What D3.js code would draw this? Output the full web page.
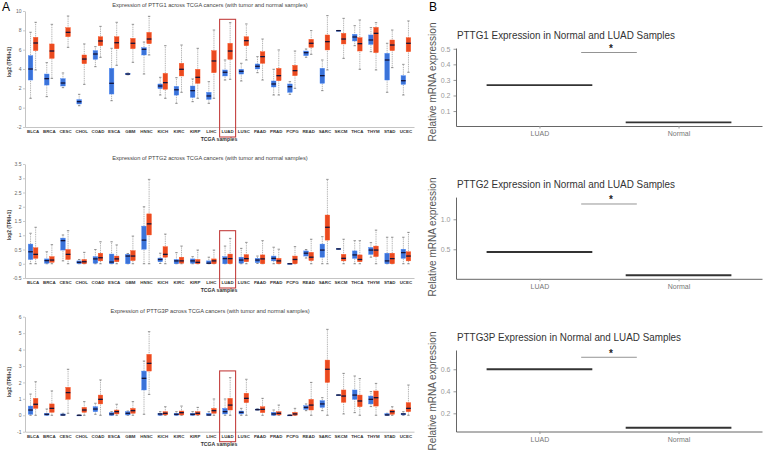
<!DOCTYPE html>
<html>
<head>
<meta charset="utf-8">
<script src="https://cdn.jsdelivr.net/npm/d3@7/dist/d3.min.js"></script>
<style>
  body { margin: 0; background: #fff; }
  svg { display: block; font-family: 'Liberation Sans', Arial, sans-serif; }
</style>
</head>
<body>
<svg id="fig" width="768" height="451"></svg>
<script>
/* global d3 */

// TCGA cancer types (x axis of panel A)
const cancers = ['BLCA', 'BRCA', 'CESC', 'CHOL', 'COAD', 'ESCA', 'GBM', 'HNSC', 'KICH', 'KIRC', 'KIRP', 'LIHC',
  'LUAD', 'LUSC', 'PAAD', 'PRAD', 'PCPG', 'READ', 'SARC', 'SKCM', 'THCA', 'THYM', 'STAD', 'UCEC']

// box stats per cancer: [whisker low, q1, median, q3, whisker high]
const pttg1Normal = [
  [0.97, 2.86, 4.0, 5.38, 7.8], [1.14, 2.34, 3.0, 3.48, 4.66], [2.07, 2.24, 2.55, 3.0, 3.59], [0.2, 0.38, 0.62, 0.83, 1.38],
  [4.24, 5.0, 5.55, 5.9, 6.31], [0.72, 1.41, 2.52, 4.07, 6.14], [3.4, 3.42, 3.48, 3.55, 3.58], [3.48, 5.45, 6.03, 6.21, 6.79],
  [1.31, 1.97, 2.24, 2.45, 3.14], [0.45, 1.3, 1.85, 2.2, 3.1], [0.62, 1.07, 1.76, 2.24, 2.97], [0.45, 0.86, 1.21, 1.59, 2.69],
  [2.86, 3.28, 3.66, 3.9, 4.93], [2.76, 3.48, 3.76, 3.97, 4.59], [3.62, 4.0, 4.28, 4.52, 5.28], [1.31, 2.14, 2.45, 2.76, 3.97],
  [1.38, 1.59, 2.17, 2.45, 2.69], [5.21, 5.38, 5.69, 5.86, 6.07], [1.76, 2.52, 3.31, 4.07, 4.93], [7.95, 7.95, 7.97, 7.99, 7.99],
  [6.41, 6.9, 7.31, 7.59, 8.48], [5.79, 6.55, 7.0, 7.52, 8.28], [1.59, 2.86, 4.93, 5.62, 6.66], [1.31, 2.41, 2.79, 3.31, 4.48]
]
const pttg1Tumor = [
  [3.9, 5.9, 6.69, 7.28, 8.83], [3.03, 5.1, 5.86, 6.59, 8.62], [6.24, 7.34, 7.79, 8.28, 9.48], [2.41, 4.55, 5.03, 5.45, 6.59],
  [5.21, 6.41, 6.9, 7.34, 8.41], [4.38, 6.1, 6.72, 7.34, 8.83], [4.69, 6.1, 6.66, 7.17, 8.62], [5.45, 6.62, 7.1, 7.79, 9.45],
  [0.97, 1.9, 2.59, 3.55, 6.41], [1.59, 3.28, 3.97, 4.59, 6.48], [0.97, 2.52, 3.14, 3.97, 6.14], [0.97, 3.62, 4.83, 5.9, 8.03],
  [2.93, 5.0, 5.86, 6.66, 8.79], [4.93, 6.41, 6.93, 7.34, 8.66], [2.86, 4.59, 5.28, 5.79, 7.1], [1.31, 2.79, 3.31, 4.07, 5.97],
  [2.0, 3.31, 3.83, 4.38, 5.86], [5.52, 6.24, 6.66, 7.07, 7.97], [3.9, 5.97, 6.83, 7.52, 9.52], [5.1, 6.59, 7.1, 7.69, 9.24],
  [3.97, 5.86, 6.62, 7.24, 9.07], [3.9, 5.69, 7.69, 8.31, 8.79], [4.14, 5.9, 6.48, 7.0, 8.03], [3.66, 5.79, 6.66, 7.24, 8.97]
]
const pttg2Normal = [
  [0, 0.15, 0.42, 0.69, 1.07], [0, 0.02, 0.11, 0.17, 0.42], [0.1, 0.48, 0.81, 0.9, 1.01], [0, 0, 0.05, 0.1, 0.15],
  [0, 0.02, 0.17, 0.25, 0.5], [0, 0, 0.06, 0.34, 0.77], [0, 0, 0.27, 0.33, 0.36], [0, 0.51, 0.83, 1.32, 2.0],
  [0.01, 0.07, 0.15, 0.2, 0.37], [0, 0, 0.1, 0.15, 0.39], [0, 0.02, 0.1, 0.17, 0.25], [0, 0, 0.02, 0.1, 0.23],
  [0, 0, 0.18, 0.25, 0.62], [0, 0.02, 0.13, 0.23, 0.54], [0.01, 0.04, 0.13, 0.19, 0.27], [0, 0.1, 0.19, 0.27, 0.58],
  [0, 0, 0, 0.01, 0.01], [0.2, 0.27, 0.37, 0.45, 0.5], [0, 0.23, 0.48, 0.69, 0.95], [0.51, 0.51, 0.52, 0.53, 0.53],
  [0, 0.19, 0.31, 0.45, 0.81], [0.23, 0.33, 0.48, 0.57, 0.74], [0, 0, 0.1, 0.37, 0.93], [0, 0.19, 0.39, 0.51, 0.93]
]
const pttg2Tumor = [
  [0, 0.19, 0.33, 0.56, 1.28], [0, 0.05, 0.13, 0.25, 0.67], [0, 0.15, 0.33, 0.5, 1.16], [0, 0, 0.07, 0.15, 0.4],
  [0, 0.1, 0.21, 0.37, 0.77], [0, 0.07, 0.17, 0.27, 0.66], [0, 0.11, 0.27, 0.46, 0.97], [0, 1.01, 1.4, 1.75, 2.96],
  [0, 0.23, 0.33, 0.6, 1.04], [0, 0.02, 0.1, 0.23, 0.62], [0, 0, 0.05, 0.15, 0.48], [0, 0, 0.1, 0.17, 0.48],
  [0, 0, 0.18, 0.34, 0.89], [0, 0.07, 0.18, 0.32, 0.75], [0, 0, 0.17, 0.31, 0.81], [0, 0, 0.1, 0.19, 0.51],
  [0, 0, 0.15, 0.27, 0.6], [0, 0.11, 0.23, 0.4, 0.86], [0, 0.83, 1.28, 1.71, 2.96], [0, 0.1, 0.19, 0.33, 0.86],
  [0, 0.07, 0.15, 0.31, 0.81], [0, 0.25, 0.48, 0.62, 1.18], [0, 0, 0.18, 0.37, 0.93], [0, 0.1, 0.27, 0.42, 1.1]
]
const pttg3pNormal = [
  [0, 0.06, 0.32, 0.56, 1.29], [0, 0, 0.06, 0.12, 0.38], [0, 0, 0.02, 0.08, 0.12], [0, 0, 0, 0.01, 0.01],
  [0.06, 0.22, 0.38, 0.52, 0.73], [0, 0, 0.08, 0.16, 0.22], [0, 0.02, 0.12, 0.22, 0.26], [0.06, 1.54, 2.25, 2.69, 3.3],
  [0, 0, 0.08, 0.12, 0.22], [0, 0, 0.06, 0.12, 0.22], [0, 0, 0.06, 0.12, 0.22], [0, 0, 0.02, 0.12, 0.22],
  [0, 0.08, 0.22, 0.42, 0.99], [0, 0.08, 0.18, 0.26, 0.42], [0.32, 0.32, 0.34, 0.38, 0.4], [0, 0, 0.08, 0.18, 0.32],
  [0, 0, 0, 0.01, 0.01], [0.28, 0.36, 0.48, 0.58, 0.69], [0.28, 0.48, 0.69, 0.89, 1.07], [1.22, 1.22, 1.23, 1.24, 1.24],
  [0.16, 0.97, 1.23, 1.54, 2.39], [0.53, 0.69, 0.97, 1.17, 1.44], [0, 0, 0.02, 0.1, 0.12], [0, 0.02, 0.08, 0.12, 0.22]
]
const pttg3pTumor = [
  [0, 0.42, 0.67, 1.03, 2.04], [0, 0.18, 0.42, 0.69, 1.48], [0.12, 0.97, 1.38, 1.7, 2.8], [0, 0.18, 0.32, 0.48, 0.83],
  [0, 0.69, 0.97, 1.23, 2.15], [0, 0.08, 0.22, 0.32, 0.67], [0, 0.12, 0.28, 0.42, 0.83], [1.27, 2.69, 3.16, 3.71, 5.09],
  [0, 0.02, 0.12, 0.22, 0.52], [0, 0.02, 0.16, 0.26, 0.56], [0, 0.02, 0.12, 0.22, 0.48], [0, 0.12, 0.28, 0.42, 0.99],
  [0, 0.32, 0.62, 1.03, 2.29], [0, 0.77, 1.03, 1.34, 2.19], [0, 0.16, 0.36, 0.52, 1.03], [0, 0.02, 0.12, 0.22, 0.62],
  [0, 0, 0.08, 0.18, 0.42], [0, 0.32, 0.62, 0.97, 2.0], [0, 2.0, 2.8, 3.36, 5.23], [0.08, 0.79, 1.17, 1.54, 2.55],
  [0, 0.52, 0.87, 1.23, 2.23], [0, 0.56, 1.07, 1.48, 1.94], [0, 0.06, 0.22, 0.32, 0.52], [0, 0.22, 0.42, 0.77, 1.84]
]
const pttg1Ticks = [-2, 0, 2, 4, 6, 8, 10]
const pttg2Ticks = [-0.5, 0, 0.5, 1, 1.5, 2, 2.5, 3, 3.5]
const pttg3pTicks = [-1, 0, 1, 2, 3, 4, 5, 6]

// panel B: relative expression (LUAD vs Normal)
const groups = ['LUAD', 'Normal']
const pttg1Rel = [0.266, 0.027]
const pttg2Rel = [0.455, 0.067]
const pttg3pRel = [0.6, 0.069]
const sigY = [0.476, 1.255, 0.709]
const pttg1RelTicks = [0.1, 0.2, 0.3, 0.4, 0.5]
const pttg2RelTicks = [0.5, 1.0]
const pttg3pRelTicks = [0.2, 0.4, 0.6]

const svg = d3.select('#fig')
const blue = '#3b73d9'
const red = '#ea4a1f'

svg.append('text').attr('x', 2).attr('y', 11).style('font-size', '12px').text('A')
svg.append('text').attr('x', 429).attr('y', 11).style('font-size', '12px').text('B')

const x = d3.scaleBand().domain(cancers).range([25, 414])

function drawTcga (gene, normal, tumor, ticks, top, bottom, hlTop, labelY) {
  const y = d3.scaleLinear().domain([ticks[0], ticks[ticks.length - 1]]).range([bottom, top])
  const g = svg.append('g')

  g.append('text')
    .attr('x', 210).attr('y', top - 4)
    .attr('text-anchor', 'middle')
    .style('font-size', '5.7px').style('fill', '#444')
    .text(`Expression of ${gene} across TCGA cancers (with tumor and normal samples)`)

  const yAxis = g.append('g')
    .attr('transform', 'translate(25,0)')
    .call(d3.axisLeft(y).tickValues(ticks).tickSize(2).tickSizeOuter(0).tickFormat(d => d))
  yAxis.selectAll('text').style('font-size', '5px').style('fill', '#666').attr('x', -3.5)

  const xAxis = g.append('g')
    .attr('transform', `translate(0,${bottom})`)
    .call(d3.axisBottom(x).tickSize(0).tickSizeOuter(0))
  xAxis.selectAll('text').style('font-size', '4.4px').style('font-weight', 'bold').style('fill', '#333').attr('y', 3)
  g.selectAll('.domain').attr('stroke', '#aaa').attr('stroke-width', 0.7)
  g.selectAll('.tick line').attr('stroke', '#aaa').attr('stroke-width', 0.6)

  g.append('text')
    .attr('x', 219).attr('y', bottom + 14)
    .attr('text-anchor', 'middle')
    .style('font-size', '5.2px').style('font-weight', 'bold').style('fill', '#333')
    .text('TCGA samples')

  g.append('text')
    .attr('transform', `translate(11,${labelY}) rotate(-90)`)
    .attr('text-anchor', 'middle')
    .style('font-size', '4.8px').style('font-weight', 'bold').style('fill', '#333')
    .text('log2 (TPM+1)')

  const series = [{ data: normal, dx: -2.55, color: blue }, { data: tumor, dx: 2.55, color: red }]
  series.forEach(s => {
    const b = g.append('g').selectAll('g')
      .data(s.data.map((d, i) => ({ cancer: cancers[i], v: d })))
      .join('g')
      .attr('transform', d => `translate(${x(d.cancer) + x.bandwidth() / 2 + s.dx},0)`)

    b.append('line').attr('y1', d => y(d.v[0])).attr('y2', d => y(d.v[4]))
      .attr('stroke', '#8a8a8a').attr('stroke-width', 0.7).attr('stroke-dasharray', '1,0.8')
    b.append('line').attr('x1', -1.2).attr('x2', 1.2).attr('y1', d => y(d.v[0])).attr('y2', d => y(d.v[0]))
      .attr('stroke', '#666').attr('stroke-width', 0.7)
    b.append('line').attr('x1', -1.2).attr('x2', 1.2).attr('y1', d => y(d.v[4])).attr('y2', d => y(d.v[4]))
      .attr('stroke', '#666').attr('stroke-width', 0.7)
    b.append('rect')
      .attr('x', -2.3).attr('width', 4.6)
      .attr('y', d => y(d.v[3]))
      .attr('height', d => Math.max(y(d.v[1]) - y(d.v[3]), 0.8))
      .attr('fill', s.color)
      .attr('stroke', d3.color(s.color).brighter(0.4)).attr('stroke-width', 0.4)
    b.append('line').attr('x1', -2.3).attr('x2', 2.3).attr('y1', d => y(d.v[2])).attr('y2', d => y(d.v[2]))
      .attr('stroke', '#14143a').attr('stroke-width', 1.3)
  })

  // LUAD highlight frame
  const lx = x('LUAD') + x.bandwidth() / 2
  g.append('rect')
    .attr('x', lx - 8).attr('width', 16)
    .attr('y', y(hlTop)).attr('height', bottom + 10 - y(hlTop))
    .attr('fill', 'none').attr('stroke', '#c4403f').attr('stroke-width', 1.1)
}

drawTcga('PTTG1', pttg1Normal, pttg1Tumor, pttg1Ticks, 11, 127, 9.14, 62)
drawTcga('PTTG2', pttg2Normal, pttg2Tumor, pttg2Ticks, 164, 278, 1.16, 225)
drawTcga('PTTG3P', pttg3pNormal, pttg3pTumor, pttg3pTicks, 316.7, 431.7, 2.7, 382)

const xb = d3.scaleLinear().domain([0.4, 2.6]).range([456, 762])

function drawRel (gene, values, sig, ticks, domain, range, fmt, labelY) {
  const y = d3.scaleLinear().domain(domain).range(range)
  const g = svg.append('g')

  g.append('text')
    .attr('x', 457).attr('y', range[1] - 9)
    .attr('textLength', gene.length > 5 ? 224 : 218).attr('lengthAdjust', 'spacingAndGlyphs')
    .style('font-size', '10.8px').style('fill', '#333')
    .text(`${gene} Expression in Normal and LUAD Samples`)

  g.append('text')
    .attr('transform', `translate(436,${labelY}) rotate(-90)`)
    .attr('text-anchor', 'middle')
    .style('font-size', '10px').style('fill', '#555')
    .text('Relative mRNA expression')

  const yAxis = g.append('g')
    .attr('transform', 'translate(456,0)')
    .call(d3.axisLeft(y).tickValues(ticks).tickSize(2.5).tickSizeOuter(0).tickFormat(d3.format(fmt)))
  yAxis.selectAll('text').style('font-size', '7px').style('fill', '#999')

  const xAxis = g.append('g')
    .attr('transform', `translate(0,${range[0]})`)
    .call(d3.axisBottom(xb).tickValues([1, 2]).tickSize(2.5).tickSizeOuter(0).tickFormat(d => groups[d - 1]))
  xAxis.selectAll('text').style('font-size', '7px').style('fill', '#777')
  g.selectAll('.domain').attr('stroke', '#555').attr('stroke-width', 0.9)
  g.selectAll('.tick line').attr('stroke', '#999')

  g.append('g').selectAll('line')
    .data(values)
    .join('line')
    .attr('x1', (d, i) => xb(i + 1 - 0.38))
    .attr('x2', (d, i) => xb(i + 1 + 0.38))
    .attr('y1', d => y(d)).attr('y2', d => y(d))
    .attr('stroke', '#333').attr('stroke-width', 1.8)

  g.append('line')
    .attr('x1', xb(1.3)).attr('x2', xb(1.7))
    .attr('y1', y(sig)).attr('y2', y(sig))
    .attr('stroke', '#666').attr('stroke-width', 0.7)
  g.append('text')
    .attr('x', xb(1.5) + 2).attr('y', y(sig) - 0.5)
    .attr('text-anchor', 'middle')
    .style('font-size', '10px').style('font-weight', 'bold').style('fill', '#222')
    .text('*')
}

drawRel('PTTG1', pttg1Rel, sigY[0], pttg1RelTicks, [0.004, 0.505], [126, 48], '.1f', 82)
drawRel('PTTG2', pttg2Rel, sigY[1], pttg2RelTicks, [0.008, 1.37], [278.8, 197.1], '.1f', 237)
drawRel('PTTG3P', pttg3pRel, sigY[2], pttg3pRelTicks, [0.035, 0.775], [431.5, 350], '.1f', 391)
</script>
</body>
</html>
